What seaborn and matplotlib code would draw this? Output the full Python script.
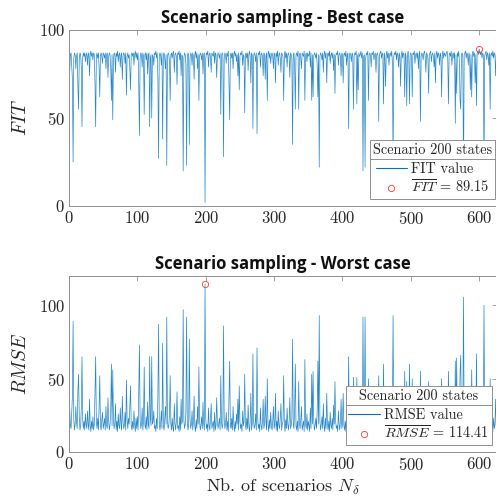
import numpy as np
import pandas as pd
import matplotlib
matplotlib.use("Agg")
import matplotlib.pyplot as plt
import seaborn as sns
from matplotlib.lines import Line2D

# ---------------- data ----------------
fit_values = [
    76, 86, 87, 80, 72, 25, 84, 87, 86, 78, 85, 87, 68, 55, 83, 87, 86, 79, 45, 84, 87, 85, 87, 82, 86,
    87, 80, 86, 87, 74, 86, 88, 85, 87, 83, 87, 86, 70, 45, 85, 87, 84, 87, 79, 62, 86, 87, 85, 81, 87,
    86, 84, 87, 78, 86, 87, 73, 85, 87, 86, 80, 60, 86, 49, 84, 87, 86, 76, 87, 85, 88, 82, 86, 87, 79,
    86, 87, 72, 85, 87, 86, 81, 87, 63, 85, 87, 84, 86, 78, 66, 86, 87, 85, 87, 80, 86, 88, 84, 87, 83,
    87, 70, 40, 84, 87, 86, 79, 87, 85, 52, 86, 87, 83, 87, 75, 86, 87, 45, 84, 86, 50, 86, 85, 80, 87,
    86, 88, 84, 87, 72, 27, 85, 87, 86, 80, 87, 38, 86, 87, 84, 78, 86, 23, 85, 87, 86, 82, 60, 86, 87,
    84, 87, 88, 76, 86, 87, 85, 69, 87, 86, 88, 83, 87, 74, 86, 85, 20, 84, 87, 86, 81, 23, 85, 87, 86,
    35, 84, 87, 86, 80, 87, 85, 72, 86, 88, 84, 87, 78, 86, 60, 85, 87, 86, 83, 87, 75, 86, 87, 2, 84,
    87, 86, 88, 79, 86, 87, 84, 76, 87, 86, 85, 88, 81, 87, 86, 73, 85, 87, 86, 84, 87, 52, 85, 87, 86,
    28, 84, 87, 86, 81, 87, 85, 88, 70, 49, 86, 87, 84, 87, 78, 86, 88, 85, 87, 82, 86, 74, 87, 66, 85,
    87, 86, 88, 80, 86, 85, 53, 86, 87, 84, 87, 77, 86, 88, 85, 70, 87, 86, 44, 85, 87, 86, 82, 87, 41,
    84, 87, 86, 88, 79, 86, 87, 85, 74, 87, 86, 72, 85, 87, 60, 86, 88, 84, 87, 81, 86, 87, 85, 78, 87,
    86, 70, 87, 85, 88, 80, 86, 87, 84, 76, 87, 86, 85, 60, 86, 88, 84, 87, 79, 86, 87, 85, 73, 87, 86,
    84, 35, 86, 87, 80, 55, 86, 87, 85, 88, 55, 86, 87, 84, 78, 87, 86, 85, 88, 60, 86, 87, 82, 87, 85,
    86, 88, 79, 87, 60, 86, 62, 85, 87, 86, 84, 87, 80, 62, 86, 22, 85, 87, 86, 83, 87, 76, 86, 88, 84,
    87, 70, 86, 87, 85, 88, 81, 86, 87, 84, 87, 77, 86, 64, 85, 87, 86, 88, 80, 86, 87, 85, 74, 87, 86,
    70, 86, 87, 85, 88, 80, 86, 87, 44, 85, 87, 86, 82, 87, 86, 55, 85, 87, 86, 88, 58, 86, 66, 87, 85,
    86, 88, 84, 87, 20, 85, 86, 22, 84, 87, 86, 88, 60, 86, 87, 85, 79, 87, 86, 88, 83, 86, 87, 76, 86,
    87, 85, 48, 86, 87, 88, 84, 87, 86, 58, 87, 85, 68, 86, 88, 84, 87, 80, 86, 87, 85, 88, 82, 20, 85,
    87, 86, 88, 83, 87, 86, 79, 87, 85, 68, 86, 88, 84, 87, 86, 62, 87, 85, 57, 86, 88, 84, 58, 86, 87,
    85, 62, 87, 86, 88, 81, 86, 87, 84, 87, 78, 86, 88, 48, 85, 87, 86, 83, 87, 88, 85, 76, 87, 86, 84,
    64, 86, 87, 88, 82, 86, 87, 85, 79, 87, 70, 86, 88, 84, 87, 86, 80, 87, 85, 62, 86, 88, 84, 87, 86,
    85, 87, 88, 83, 58, 86, 87, 85, 88, 80, 86, 87, 84, 87, 47, 86, 64, 87, 85, 88, 82, 60, 55, 86, 87,
    85, 12, 86, 87, 88, 84, 87, 86, 80, 87, 85, 66, 86, 62, 87, 88, 85, 87, 70, 86, 57, 87, 88, 86, 89.15,
    87, 86, 88, 84, 87, 86, 15, 85, 87, 88, 83, 87, 86, 80, 87, 55, 86, 87, 85, 88, 84, 87, 86, 74, 87,
]

rmse_values = [
    30, 18, 16, 27, 38, 89, 22, 15, 19, 31, 20, 16, 42, 53, 24, 15, 18, 30, 65, 22, 16, 21, 15, 26, 19,
    16, 28, 19, 15, 36, 18, 14, 21, 16, 24, 15, 19, 40, 65, 21, 16, 23, 15, 30, 52, 18, 15, 22, 27, 16,
    19, 23, 15, 31, 18, 16, 37, 21, 15, 19, 28, 60, 18, 56, 22, 16, 19, 33, 15, 21, 14, 26, 18, 16, 30,
    19, 15, 38, 21, 16, 18, 27, 15, 49, 22, 16, 23, 19, 31, 45, 18, 15, 21, 16, 28, 19, 14, 23, 16, 24,
    15, 40, 73, 22, 16, 19, 30, 15, 21, 58, 18, 16, 24, 15, 34, 19, 16, 65, 23, 18, 65, 19, 21, 28, 16,
    18, 14, 23, 16, 38, 87, 21, 15, 19, 28, 16, 74, 18, 15, 22, 31, 19, 92, 21, 16, 18, 26, 52, 19, 15,
    23, 16, 14, 33, 19, 15, 21, 41, 16, 18, 14, 24, 15, 36, 19, 21, 97, 22, 16, 19, 27, 92, 21, 15, 18,
    77, 23, 16, 19, 28, 15, 21, 38, 18, 14, 22, 16, 31, 19, 58, 21, 15, 18, 24, 16, 34, 19, 15, 114.41, 23,
    16, 19, 14, 30, 18, 15, 23, 33, 16, 19, 21, 14, 27, 15, 18, 37, 21, 16, 19, 23, 15, 52, 21, 16, 19,
    86, 22, 16, 19, 27, 15, 21, 14, 40, 62, 18, 16, 23, 15, 31, 19, 14, 21, 16, 26, 19, 36, 15, 45, 21,
    16, 19, 14, 28, 18, 21, 53, 19, 15, 23, 16, 32, 18, 14, 21, 40, 15, 19, 67, 21, 16, 18, 26, 15, 71,
    23, 16, 19, 14, 30, 18, 15, 21, 36, 16, 19, 38, 21, 15, 50, 19, 14, 22, 16, 27, 18, 15, 21, 31, 16,
    19, 40, 15, 21, 14, 28, 18, 16, 23, 33, 15, 19, 21, 52, 18, 14, 22, 16, 30, 19, 15, 21, 37, 16, 18,
    23, 77, 19, 16, 28, 60, 18, 15, 21, 14, 48, 19, 16, 22, 31, 15, 18, 21, 14, 63, 19, 16, 26, 15, 21,
    18, 14, 30, 16, 53, 19, 55, 21, 15, 18, 23, 16, 28, 62, 19, 93, 21, 15, 19, 24, 16, 33, 18, 14, 23,
    16, 40, 19, 15, 21, 14, 27, 18, 16, 23, 15, 32, 19, 48, 21, 16, 18, 14, 28, 19, 15, 21, 36, 16, 19,
    40, 18, 15, 21, 14, 28, 19, 16, 65, 21, 15, 18, 26, 16, 19, 51, 21, 15, 18, 14, 51, 19, 45, 16, 21,
    19, 14, 23, 16, 92, 21, 18, 92, 22, 15, 19, 14, 50, 18, 16, 21, 30, 15, 19, 14, 24, 18, 16, 33, 19,
    16, 21, 52, 19, 15, 14, 23, 16, 18, 60, 15, 21, 42, 19, 14, 22, 16, 28, 18, 15, 21, 14, 26, 93, 21,
    16, 19, 14, 24, 15, 18, 30, 16, 21, 42, 19, 14, 23, 15, 18, 55, 16, 21, 48, 19, 14, 22, 60, 18, 16,
    21, 50, 15, 19, 14, 27, 18, 16, 23, 15, 31, 19, 14, 55, 21, 16, 18, 24, 15, 14, 21, 33, 16, 19, 23,
    48, 18, 15, 14, 26, 19, 16, 21, 30, 15, 40, 19, 14, 23, 16, 18, 28, 15, 21, 50, 19, 14, 23, 16, 18,
    21, 16, 14, 24, 55, 19, 15, 21, 14, 28, 18, 16, 23, 15, 62, 19, 64, 16, 21, 14, 26, 55, 66, 19, 15,
    21, 105.6, 19, 15, 14, 23, 16, 18, 28, 15, 21, 45, 19, 56, 16, 14, 21, 15, 40, 18, 67, 16, 14, 19, 20,
    16, 19, 14, 23, 15, 18, 100, 21, 16, 14, 24, 15, 19, 28, 16, 50, 18, 15, 21, 14, 23, 16, 19, 36, 15,
]

scenarios = np.arange(1, len(fit_values) + 1)
x_ticks = [0, 100, 200, 300, 400, 500, 600]
fit_ticks = [0, 50, 100]
rmse_ticks = [0, 50, 100]
legend_title = "Scenario 200 states"
titles = ["Scenario sampling - Best case", "Scenario sampling - Worst case"]

df = pd.DataFrame({"scenario": scenarios, "FIT": fit_values, "RMSE": rmse_values})

# ---------------- style ----------------
sns.set_theme(style="white")
plt.rcParams["font.family"] = ["cmr10", "DejaVu Serif"]
plt.rcParams["mathtext.fontset"] = "cm"
plt.rcParams["axes.formatter.use_mathtext"] = True
plt.rcParams["axes.unicode_minus"] = False

LINE = "#0072BD"
MARK = "#ff3b3b"
SPINE = "#8f8f8f"
TXT = "#262626"

fig = plt.figure(figsize=(4.96, 5.0), dpi=100)
W, H = 496, 500
ax1 = fig.add_axes([69 / W, 1 - 206 / H, (497 - 69) / W, 176 / H])
ax2 = fig.add_axes([69 / W, 1 - 452 / H, (497 - 69) / W, 176 / H])


def style_axes(ax, ylim, yticks):
    ax.set_xlim(0, 626)
    ax.set_ylim(*ylim)
    ax.set_xticks(x_ticks)
    ax.set_yticks(yticks)
    for s in ax.spines.values():
        s.set_color(SPINE)
        s.set_linewidth(0.7)
        s.set_visible(True)
    ax.tick_params(direction="in", length=3.5, width=0.6, color=SPINE,
                   top=True, right=True, labelsize=12, labelcolor=TXT, pad=3)


sns.lineplot(data=df, x="scenario", y="FIT", ax=ax1, color=LINE, lw=0.5, alpha=0.85)
sns.lineplot(data=df, x="scenario", y="RMSE", ax=ax2, color=LINE, lw=0.5, alpha=0.85)

i1 = int(np.argmax(df["FIT"].values))
i2 = int(np.argmax(df["RMSE"].values))
ax1.plot(df["scenario"].iloc[i1], df["FIT"].iloc[i1], "o", mfc="none", mec=MARK, ms=4.5, mew=0.6)
ax2.plot(df["scenario"].iloc[i2], df["RMSE"].iloc[i2], "o", mfc="none", mec=MARK, ms=4.5, mew=0.6)

style_axes(ax1, (0, 100), fit_ticks)
style_axes(ax2, (0, 120), rmse_ticks)

for ax, t in zip([ax1, ax2], titles):
    ax.set_title(t, fontfamily=["Open Sans", "DejaVu Sans"], fontweight="bold",
                 fontsize=12, color="#111111", pad=5)

ax1.set_ylabel(r"$FIT$", fontsize=14, color=TXT, labelpad=6)
ax2.set_ylabel(r"$RMSE$", fontsize=14, color=TXT, labelpad=6)
ax1.set_xlabel("")
ax2.set_xlabel(r"Nb. of scenarios $N_\delta$", fontsize=13, color=TXT, labelpad=3)


def add_legend(ax, label_line, label_mark, corner):
    h = [Line2D([], [], color=LINE, lw=0.8),
         Line2D([], [], ls="none", marker="o", mfc="none", mec=MARK, ms=4.5, mew=0.6)]
    leg = ax.legend(h, [label_line, label_mark], title=legend_title,
                    loc="lower right", bbox_to_anchor=(corner[0] / W, 1 - corner[1] / H),
                    bbox_transform=fig.transFigure, fontsize=10.3, title_fontsize=10.3,
                    frameon=True, fancybox=False, framealpha=1, edgecolor=SPINE,
                    borderpad=0.2, labelspacing=0.2, handlelength=2.2, handletextpad=0.3,
                    borderaxespad=0)
    leg.get_frame().set_linewidth(0.7)
    leg.get_title().set_color(TXT)
    leg._legend_box.sep = 4
    for t in leg.get_texts():
        t.set_color(TXT)
    return leg


leg1 = add_legend(ax1, "FIT value", r"$\overline{FIT}\,=\,89.15$", (495, 199))
leg2 = add_legend(ax2, "RMSE value", r"$\overline{RMSE}\,=\,114.41$", (492, 445))

# separator line under the legend title (MATLAB style)
fig.canvas.draw()
r = fig.canvas.get_renderer()
for leg in (leg1, leg2):
    fb = leg.get_frame().get_window_extent(r)
    tb = leg.get_title().get_window_extent(r)
    y = tb.y0 - 2
    fig.add_artist(Line2D([fb.x0 / W, fb.x1 / W], [y / H, y / H], transform=fig.transFigure,
                          color=SPINE, lw=0.7, zorder=10))

fig.savefig("out.png", dpi=100)
